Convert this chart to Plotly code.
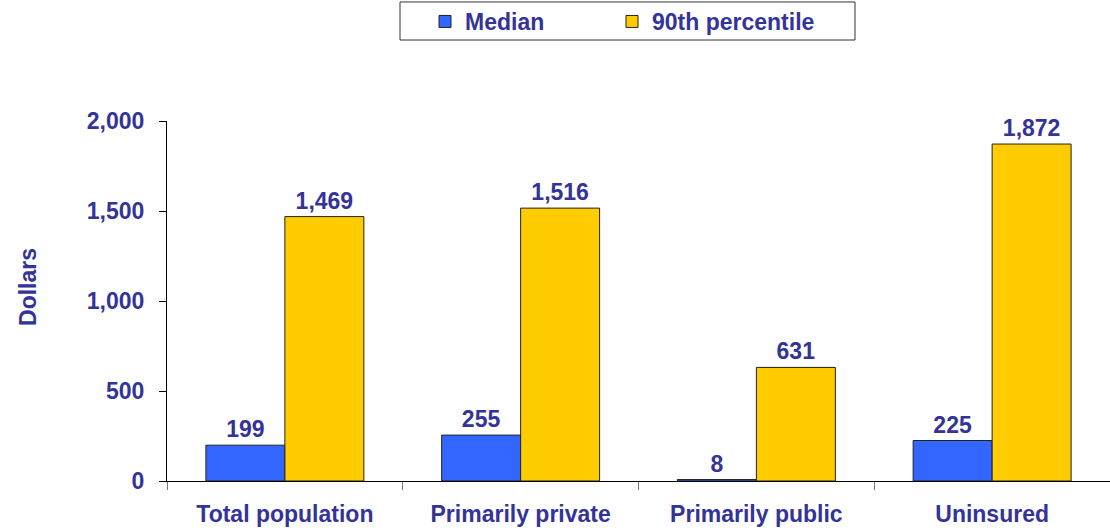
import plotly.graph_objects as go

categories = ["Total population", "Primarily private", "Primarily public", "Uninsured"]
median = [199, 255, 8, 225]
p90 = [1469, 1516, 631, 1872]
y_ticks = [0, 500, 1000, 1500, 2000]

TEXT = "#333399"
FONT = "Liberation Sans, Arial, sans-serif"
SIZE = 23

fig = go.Figure()
fig.add_trace(go.Bar(
    name="<b>Median</b>", x=categories, y=median, legend="legend",
    marker=dict(color="#3366FF", line=dict(color="#222222", width=1)),
    text=[f"<b>{v:,}</b>" for v in median], textposition="outside",
    textfont=dict(color=TEXT, size=SIZE, family=FONT), cliponaxis=False,
))
fig.add_trace(go.Bar(
    name="<b>90th percentile</b>", x=categories, y=p90, legend="legend2",
    marker=dict(color="#FFCC00", line=dict(color="#222222", width=1)),
    text=[f"<b>{v:,}</b>" for v in p90], textposition="outside",
    textfont=dict(color=TEXT, size=SIZE, family=FONT), cliponaxis=False,
))

legend_style = dict(
    orientation="h", y=1.278, xanchor="left", yanchor="middle",
    borderwidth=0, bgcolor="rgba(0,0,0,0)",
    font=dict(size=SIZE, color=TEXT, family=FONT), itemwidth=30,
)

fig.update_layout(
    width=1110, height=531,
    margin=dict(l=167, r=0, t=121, b=50),
    paper_bgcolor="white", plot_bgcolor="white",
    barmode="group", bargap=0.33, bargroupgap=0,
    font=dict(family=FONT, color=TEXT, size=SIZE),
    showlegend=True,
    legend=dict(x=0.2736, **legend_style),
    legend2=dict(x=0.4719, **legend_style),
    uniformtext=dict(minsize=SIZE, mode="show"),
    shapes=[dict(
        type="rect", xref="paper", yref="paper",
        x0=0.2471, x1=0.7296, y0=1.225, y1=1.3306,
        line=dict(color="#333333", width=1), fillcolor="rgba(0,0,0,0)", layer="below",
    )],
    annotations=[dict(
        text="<b>Dollars</b>", xref="paper", yref="paper",
        x=-0.1474, y=0.539, xanchor="center", yanchor="middle",
        showarrow=False, textangle=-90,
        font=dict(size=SIZE, color=TEXT, family=FONT),
    )],
)
fig.update_xaxes(
    showline=True, linecolor="black", linewidth=1,
    ticks="outside", tickson="boundaries", ticklen=8, tickcolor="#777777",
    tickvals=categories, ticktext=[f"<b>{c}</b>" for c in categories],
    tickfont=dict(size=SIZE, color=TEXT, family=FONT), ticklabelstandoff=12,
    showgrid=False, range=[-0.5, 3.5],
)
fig.update_yaxes(
    range=[0, 2000], tickvals=y_ticks, ticktext=[f"<b>{v:,}</b>" for v in y_ticks],
    showline=True, linecolor="black", linewidth=1,
    ticks="outside", ticklen=7, tickcolor="black",
    tickfont=dict(size=SIZE, color=TEXT, family=FONT), ticklabelstandoff=10,
    showgrid=False, zeroline=False,
)

fig.write_html("out.html")
